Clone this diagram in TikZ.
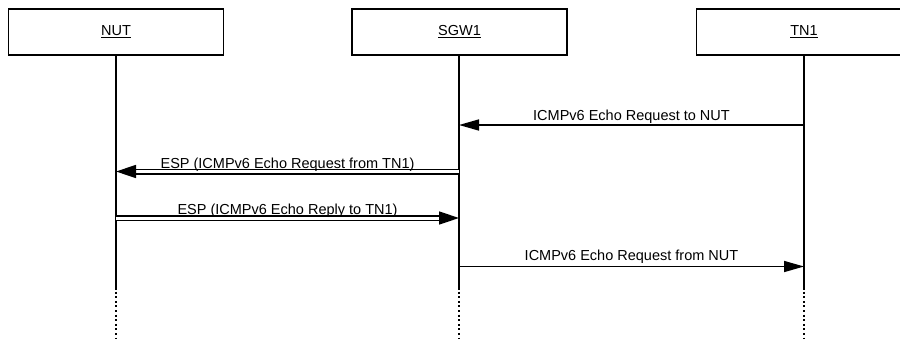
\documentclass[tikz,border=0pt]{standalone}
\usepackage{fontspec}
\setmainfont{Liberation Sans}
\usetikzlibrary{arrows.meta}
\begin{document}
\begin{tikzpicture}[x=1pt,y=-1pt,
  entity/.style={draw, line width=1.8pt, minimum width=215pt, minimum height=46pt, inner sep=0pt, font=\fontsize{14.5}{17}\selectfont},
  life/.style={line width=2pt},
  lifedots/.style={line width=2pt, dash pattern=on 2pt off 2.6pt},
  msg/.style={line width=1.6pt, -{Triangle[length=20pt,width=11pt]}},
  dmsg/.style={line width=1.5pt, double, double distance=3pt, -{Triangle[length=20pt,width=13pt]}},
  lbl/.style={anchor=base, inner sep=0pt, font=\fontsize{14.5}{17}\selectfont}]
\useasboundingbox (0,0) rectangle (900,338);
% entities
\node[entity] (nut) at (116,32) {\underline{NUT}};
\node[entity] (sgw) at (459.5,32) {\underline{SGW1}};
\node[entity] (tn)  at (804,32) {\underline{TN1}};
% lifeline coordinates
\coordinate (nutE) at (116,290);  \coordinate (nutB) at (116,338);
\coordinate (sgwE) at (459,290);  \coordinate (sgwB) at (459,338);
\coordinate (tnE)  at (804,290);  \coordinate (tnB)  at (804,338);
\draw[life] (nut.south) -- (nutE);
\draw[life] ([xshift=-0.5pt]sgw.south) -- (sgwE);
\draw[life] (tn.south) -- (tnE);
\draw[lifedots] ([yshift=3pt]nutE) -- (nutB);
\draw[lifedots] ([yshift=3pt]sgwE) -- (sgwB);
\draw[lifedots] ([yshift=3pt]tnE) -- (tnB);
% message end points
\coordinate (t1) at (804,125);   \coordinate (s1) at (459,125);
\coordinate (s2) at (459,171.5); \coordinate (n2) at (116,171.5);
\coordinate (n3) at (116,218);   \coordinate (s3) at (459,218);
\coordinate (s4) at (459,266.5); \coordinate (t4) at (804,266.5);
% messages
\draw[msg] (t1) -- (s1);
\node[lbl] (l1) at (631.5,120) {ICMPv6 Echo Request to NUT};
\draw[dmsg] (s2) -- (n2);
\node[lbl] (l2) at (287.5,168) {ESP (ICMPv6 Echo Request from TN1)};
\draw[dmsg] (n3) -- (s3);
\node[lbl] (l3) at (287.5,214.5) {ESP (ICMPv6 Echo Reply to TN1)};
\draw[msg] (s4) -- (t4);
\node[lbl] (l4) at (631.5,260.5) {ICMPv6 Echo Request from NUT};
\end{tikzpicture}
\end{document}
